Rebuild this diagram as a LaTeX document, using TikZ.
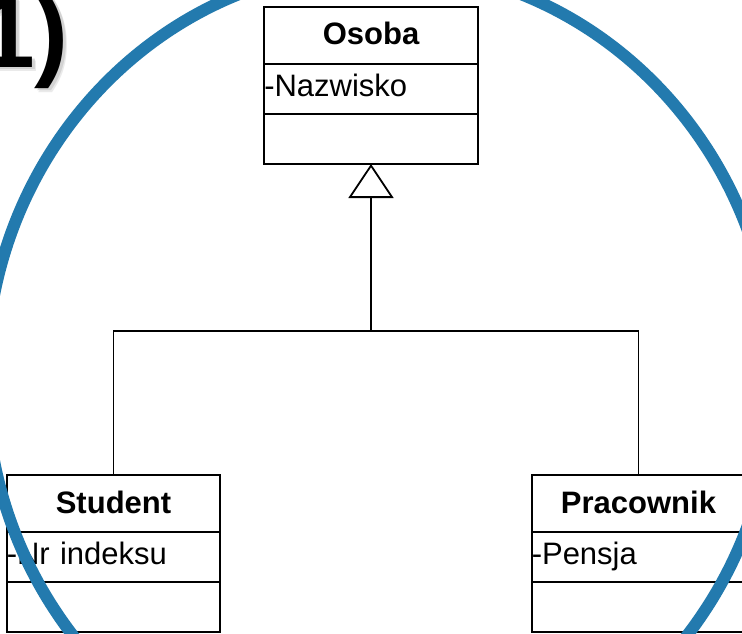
\documentclass[tikz,border=0pt]{standalone}
\usepackage{fontspec}
\setmainfont{Liberation Sans}
\usetikzlibrary{arrows.meta}
\definecolor{ringblue}{RGB}{35,122,174}
\begin{document}
\begin{tikzpicture}[x=1pt,y=-1pt,
  classtitle/.style={draw, line width=2pt, inner xsep=0pt, inner ysep=0pt, outer sep=0pt,
    minimum width=213.5pt, text width=213.5pt, align=center,
    text height=38pt, text depth=19pt, font=\bfseries\fontsize{31}{36}\selectfont, anchor=north},
  classattr/.style={draw, line width=2pt, inner xsep=0pt, inner ysep=0pt, outer sep=0pt,
    minimum width=213.5pt, text width=213.5pt, align=left,
    text height=32pt, text depth=18pt, font=\fontsize{31}{36}\selectfont, anchor=north},
  classops/.style={draw, line width=2pt, inner sep=0pt, outer sep=0pt,
    minimum width=213.5pt, minimum height=50pt, anchor=north},
  link/.style={draw, line width=1.7pt},
  inherit/.style={link, -{Triangle[open, length=34pt, width=45pt, line width=1.8pt]}},
  bignum/.style={anchor=base west, inner sep=0pt, font=\bfseries\fontsize{102}{102}\selectfont}]
\useasboundingbox (0,0) rectangle (742,634);
\clip (0,0) rectangle (742,634);
\fill[white] (0,0) rectangle (742,634);

% superclass
\node[classtitle] (osoba) at (371,7) {Osoba};
\node[classattr] (osoba-a) at (osoba.south) {-Nazwisko};
\node[classops] (osoba-m) at (osoba-a.south) {};

% subclasses
\node[classtitle] (student) at (113.5,475) {Student};
\node[classattr] (student-a) at (student.south) {-Nr indeksu};
\node[classops] (student-m) at (student-a.south) {};

\node[classtitle] (pracownik) at (638.5,475) {Pracownik};
\node[classattr] (pracownik-a) at (pracownik.south) {-Pensja};
\node[classops] (pracownik-m) at (pracownik-a.south) {};

% generalisation
\coordinate (fork) at (371,331);
\draw[link] (student.north) |- (fork) -| (pracownik.north);
\draw[inherit] (fork) -- (osoba-m.south);

% ring
\draw[ringblue, line width=12pt] (380,378) ellipse [x radius=394pt, y radius=411pt];

% number with soft drop shadow
\node[bignum, text=black!30, opacity=0.5] (numshadow) at (-19,70) {1)};
\node[bignum, text=black!20, opacity=0.4] (numshadow2) at (-18,71) {1)};
\node[bignum] (num) at (-22,67) {1)};
\end{tikzpicture}
\end{document}
